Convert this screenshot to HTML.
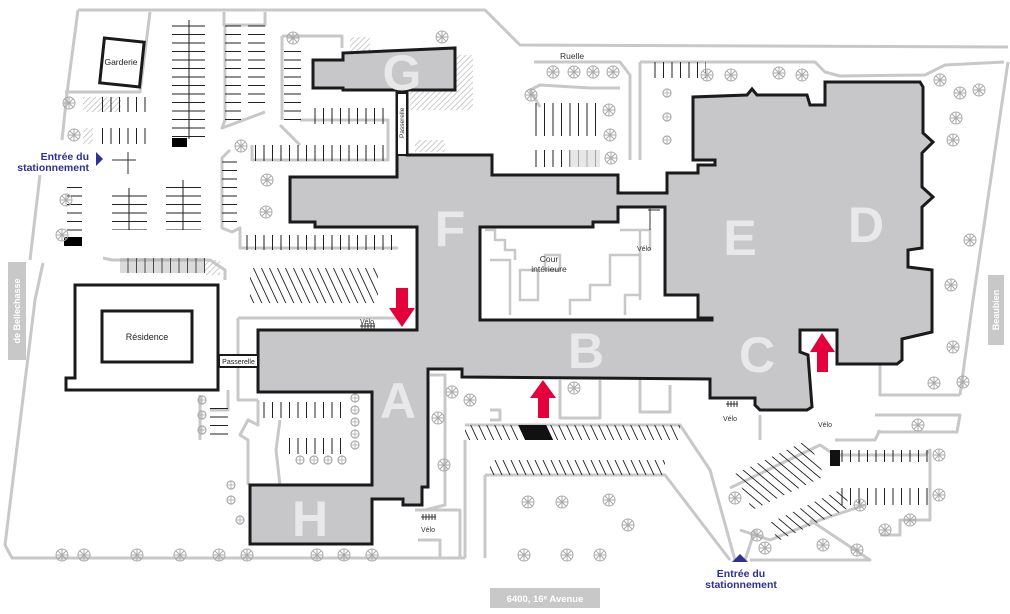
<!DOCTYPE html>
<html><head><meta charset="utf-8"><style>
html,body{margin:0;padding:0;background:#fff;}
svg{display:block;font-family:"Liberation Sans",sans-serif;}
</style></head><body>
<svg width="1010" height="614" viewBox="0 0 1010 614" xmlns="http://www.w3.org/2000/svg">
<defs>
<pattern id="vl" width="8.5" height="10" patternUnits="userSpaceOnUse"><line x1="0.5" y1="0" x2="0.5" y2="10" stroke="#222" stroke-width="1"/></pattern>
<pattern id="hl" width="10" height="8.5" patternUnits="userSpaceOnUse"><line x1="0" y1="0.5" x2="10" y2="0.5" stroke="#222" stroke-width="1"/></pattern>
<pattern id="dl" width="8" height="10" patternUnits="userSpaceOnUse" patternTransform="skewX(25)"><line x1="0.5" y1="0" x2="0.5" y2="10" stroke="#222" stroke-width="1"/></pattern>
<pattern id="hatch" width="4" height="4" patternUnits="userSpaceOnUse" patternTransform="rotate(45)"><line x1="0" y1="0" x2="0" y2="4" stroke="#bbb" stroke-width="1.5"/></pattern>
<g id="tree"><circle r="6" fill="none" stroke="#aaa" stroke-width="1"/><path d="M-6 0H6M0-6V6M-4-4L4 4M-4 4L4-4" stroke="#aaa" stroke-width="1"/></g>
<g id="stree"><circle r="4" fill="none" stroke="#aaa" stroke-width="1.2"/><path d="M-4 0H4M0-4V4" stroke="#aaa" stroke-width="0.8"/></g>
</defs>

<!-- site boundaries -->
<g fill="none" stroke="#c8c8c8" stroke-width="3" stroke-linejoin="round">
<polyline points="78,10 485,10 520,45 1008,47"/>
<polyline points="78,10 67,93 62,140"/>
<polyline points="150,12 140,92 65,92"/>
<polyline points="43,263 35,300 5,545 12,558 465,558"/>
<polyline points="1008,62 972,307 960,395"/>
<polyline points="40,175 30,260"/>
<polyline points="534,62 620,62 630,75 630,160"/>
<polyline points="640,62 640,160"/>
<polyline points="640,62 815,62 825,72 840,76 925,75 945,65 1004,62"/>
<polyline points="224,12 224,25 265,25 265,12"/>
<polyline points="225,25 225,120 222,128 265,112"/>
<polyline points="282,36 342,36 342,48"/>
<polyline points="282,36 282,120"/>
<polyline points="300,120 388,120 388,160 252,160 252,145"/>
<polyline points="230,150 222,158 222,228 232,232 240,228 240,248 398,248"/>
<polyline points="103,258 112,260 210,260 225,270 225,280"/>
<polyline points="238,318 400,318"/>
<polyline points="238,318 238,400 258,400"/>
<polyline points="228,390 228,410 210,410"/>
<polyline points="258,400 258,425 248,420 240,435 248,440 248,485"/>
<polyline points="280,420 276,450 280,485"/>
<polyline points="465,425 680,425 710,470 735,560"/>
<polyline points="465,440 465,558"/>
<polyline points="485,475 665,475 730,560"/>
<polyline points="485,475 485,558"/>
<polyline points="730,488 820,445 835,455 925,455 930,450 930,520 900,520 900,535 880,535"/>
<polyline points="740,530 770,540 820,520 865,505"/>
<polyline points="745,560 755,530"/>
<polyline points="810,520 870,560 750,560"/>
<polyline points="875,415 960,415 957,432 877,432 Z"/>
<polyline points="835,440 875,440 880,430"/>
<polyline points="760,415 760,440"/>
<polyline points="880,360 880,395 960,395"/>
<polyline points="560,380 560,418 600,418 600,380"/>
<polyline points="640,380 640,412 670,412 670,385"/>
<polyline points="430,375 445,375 445,505 425,510"/>
<polyline points="490,410 500,410 500,420 490,420"/>
<polyline points="415,510 460,510 460,558"/>
<polyline points="418,540 440,540 440,558"/>
<polyline points="200,440 200,395"/>
<polyline points="540,107 530,90 540,85 590,88 620,88"/>
<polyline points="280,125 300,145"/>
</g>

<!-- hatched areas -->
<rect x="83" y="97" width="38" height="15" fill="url(#hatch)"/>
<rect x="83" y="128" width="10" height="16" fill="url(#hatch)"/>
<rect x="350" y="37" width="20" height="20" fill="url(#hatch)"/>
<rect x="410" y="55" width="63" height="55" fill="url(#hatch)"/>
<rect x="415" y="140" width="30" height="12" fill="url(#hatch)"/>
<rect x="205" y="260" width="15" height="15" fill="url(#hatch)"/>

<!-- parking stalls -->
<g>
<rect x="172" y="20" width="33" height="119" fill="url(#hl)"/>
<line x1="189" y1="20" x2="189" y2="139" stroke="#222"/>
<rect x="225" y="25" width="16" height="95" fill="url(#hl)"/>
<rect x="248" y="25" width="17" height="85" fill="url(#hl)"/>
<rect x="284" y="45" width="17" height="75" fill="url(#hl)"/>
<rect x="310" y="108" width="78" height="16" fill="url(#vl)"/>
<rect x="252" y="145" width="135" height="16" fill="url(#vl)"/>
<rect x="95" y="97" width="52" height="15" fill="url(#vl)"/>
<rect x="95" y="128" width="52" height="16" fill="url(#vl)"/>
<rect x="112" y="188" width="35" height="42" fill="url(#hl)"/>
<line x1="129" y1="188" x2="129" y2="230" stroke="#222"/>
<rect x="166" y="180" width="35" height="50" fill="url(#hl)"/>
<line x1="183" y1="180" x2="183" y2="230" stroke="#222"/>
<rect x="222" y="158" width="15" height="70" fill="url(#hl)"/>
<rect x="240" y="235" width="158" height="15" fill="url(#vl)"/>
<rect x="250" y="268" width="128" height="35" fill="url(#dl)"/>
<rect x="120" y="258" width="85" height="15" fill="url(#vl)"/>
<rect x="120" y="258" width="85" height="15" fill="#999" opacity="0.35"/>
<rect x="67" y="180" width="15" height="60" fill="url(#hl)"/>
<rect x="210" y="404" width="18" height="35" fill="url(#hl)"/>
<rect x="260" y="402" width="85" height="16" fill="url(#vl)"/>
<rect x="285" y="438" width="60" height="16" fill="url(#vl)"/>
<rect x="465" y="425" width="215" height="15" fill="url(#dl)"/>
<rect x="490" y="460" width="175" height="15" fill="url(#dl)"/>
<rect x="840" y="450" width="88" height="12" fill="url(#vl)"/>
<rect x="840" y="488" width="88" height="17" fill="url(#vl)"/>
<rect x="648" y="62" width="58" height="16" fill="url(#vl)"/>
<rect x="530" y="103" width="70" height="33" fill="url(#vl)"/>
<rect x="530" y="150" width="70" height="17" fill="url(#vl)"/>
<rect x="570" y="150" width="30" height="17" fill="#ddd" opacity="0.7"/>
<rect x="740" y="455" width="80" height="40" fill="url(#dl)" transform="rotate(-25 780 475)"/>
<rect x="770" y="505" width="80" height="20" fill="url(#dl)" transform="rotate(-25 810 515)"/>
<rect x="172" y="138" width="15" height="9" fill="#000"/>
<rect x="64" y="237" width="18" height="9" fill="#000"/>
<rect x="520" y="425" width="28" height="15" fill="#111" transform="skewX(25) translate(-200 0)"/>
<rect x="830" y="450" width="10" height="16" fill="#111"/>
</g>

<!-- trees -->
<g>
<use href="#tree" x="69" y="103"/><use href="#tree" x="74" y="135"/><use href="#tree" x="66" y="200"/><use href="#tree" x="62" y="235"/>
<use href="#tree" x="293" y="38"/><use href="#tree" x="442" y="37"/><use href="#tree" x="241" y="146"/><use href="#tree" x="267" y="180"/><use href="#tree" x="266" y="212"/>
<use href="#tree" x="553" y="72"/><use href="#tree" x="574" y="72"/><use href="#tree" x="593" y="72"/><use href="#tree" x="613" y="72"/><use href="#tree" x="531" y="95"/>
<use href="#tree" x="609" y="110"/><use href="#tree" x="610" y="135"/><use href="#tree" x="611" y="158"/>
<use href="#tree" x="707" y="75"/><use href="#tree" x="731" y="75"/><use href="#tree" x="779" y="73"/><use href="#tree" x="802" y="75"/>
<use href="#tree" x="940" y="80"/><use href="#tree" x="960" y="93"/><use href="#tree" x="979" y="90"/><use href="#tree" x="956" y="118"/><use href="#tree" x="953" y="140"/><use href="#tree" x="970" y="240"/><use href="#tree" x="951" y="285"/><use href="#tree" x="953" y="347"/><use href="#tree" x="934" y="383"/>
<use href="#tree" x="62" y="555"/><use href="#tree" x="84" y="555"/><use href="#tree" x="137" y="555"/><use href="#tree" x="180" y="555"/><use href="#tree" x="219" y="555"/><use href="#tree" x="247" y="555"/><use href="#tree" x="317" y="555"/><use href="#tree" x="344" y="555"/><use href="#tree" x="372" y="555"/>
<use href="#tree" x="452" y="392"/><use href="#tree" x="470" y="400"/><use href="#tree" x="438" y="418"/><use href="#tree" x="444" y="465"/><use href="#tree" x="574" y="388"/><use href="#tree" x="528" y="502"/><use href="#tree" x="562" y="502"/><use href="#tree" x="609" y="500"/><use href="#tree" x="628" y="525"/>
<use href="#tree" x="524" y="555"/><use href="#tree" x="567" y="555"/><use href="#tree" x="600" y="555"/>
<use href="#tree" x="939" y="455"/><use href="#tree" x="939" y="495"/><use href="#tree" x="910" y="520"/><use href="#tree" x="885" y="530"/><use href="#tree" x="857" y="550"/><use href="#tree" x="860" y="505"/><use href="#tree" x="823" y="545"/><use href="#tree" x="757" y="535"/><use href="#tree" x="765" y="548"/><use href="#tree" x="735" y="498"/><use href="#tree" x="918" y="425"/><use href="#tree" x="963" y="382"/>
<use href="#stree" x="202" y="400"/><use href="#stree" x="202" y="415"/><use href="#stree" x="202" y="430"/><use href="#stree" x="231" y="485"/><use href="#stree" x="231" y="500"/><use href="#stree" x="240" y="520"/><use href="#stree" x="355" y="398"/><use href="#stree" x="355" y="410"/><use href="#stree" x="355" y="422"/><use href="#stree" x="355" y="434"/><use href="#stree" x="355" y="445"/>
<use href="#stree" x="300" y="460"/><use href="#stree" x="314" y="460"/><use href="#stree" x="328" y="460"/><use href="#stree" x="342" y="460"/><use href="#stree" x="667" y="93"/><use href="#stree" x="667" y="117"/><use href="#stree" x="667" y="140"/>
</g>

<!-- main building -->
<polygon points="290,177 397,177 397,93 407,93 407,155 492,155 492,175 618,175 618,193 667,193 667,173 698,173 698,165 715,165 715,160 693,160 693,97 747,95 752,89 757,95 807,95 810,105 825,105 825,82 920,82 923,87 923,133 933,142 922,153 922,187 933,197 922,207 922,248 908,250 908,267 932,270 932,332 902,339 902,360 897,364 837,364 837,330 800,330 800,352 808,355 812,407 807,410 760,410 755,405 755,398 710,398 710,379 462,377 462,369 428,369 428,487 422,487 422,505 403,505 403,499 372,499 372,544 250,544 250,485 372,485 372,392 258,392 258,330 417,330 417,227 315,227 315,222 290,222" fill="#c7c7ca" stroke="#1a1a1a" stroke-width="3" stroke-linejoin="miter"/>
<!-- courtyard -->
<polygon points="480,227 593,227 593,222 618,222 618,207 665,207 665,295 698,295 698,318 712,318 712,320 480,320" fill="#fff" stroke="#1a1a1a" stroke-width="3"/>
<g fill="none" stroke="#c8c8c8" stroke-width="2.5">
<polyline points="485,230 495,230 495,240 505,240 505,250 515,250 515,260"/>
<polyline points="490,260 510,260 510,315"/>
<rect x="520" y="270" width="18" height="30"/>
<rect x="545" y="255" width="15" height="15"/>
<polyline points="570,315 570,300 590,300 590,285 610,285 610,255 640,255 640,295 625,295 625,315"/>
<polyline points="620,230 650,230 650,250"/>
<line x1="640" y1="230" x2="640" y2="300"/>
</g>
<!-- G building -->
<polygon points="313,60 343,60 343,53 455,48 455,90 343,90 343,88 313,88" fill="#c7c7ca" stroke="#1a1a1a" stroke-width="3"/>
<rect x="397" y="93" width="10" height="62" fill="#fff" stroke="#1a1a1a" stroke-width="2"/>
<text x="0" y="0" font-size="6.5" fill="#333" transform="translate(404,138) rotate(-90)">Passerelle</text>

<!-- Residence -->
<polygon points="75,285 218,285 218,390 66,390 66,378 75,378" fill="#fff" stroke="#1a1a1a" stroke-width="3"/>
<rect x="102" y="311" width="90" height="51" fill="#fff" stroke="#1a1a1a" stroke-width="3"/>
<text x="147" y="340" font-size="9" text-anchor="middle" fill="#222">Résidence</text>
<rect x="219" y="355" width="39" height="12" fill="#fff" stroke="#1a1a1a" stroke-width="2"/>
<text x="238.5" y="364" font-size="7" text-anchor="middle" fill="#222">Passerelle</text>

<!-- Garderie -->
<rect x="102" y="40" width="40" height="45" fill="#fff" stroke="#1a1a1a" stroke-width="3" transform="rotate(6 122 62)"/>
<text x="121" y="65" font-size="8.5" text-anchor="middle" fill="#222">Garderie</text>

<!-- letters -->
<g font-size="50" font-weight="bold" fill="#e8e8e9" text-anchor="middle">
<text x="402" y="90">G</text>
<text x="450" y="246">F</text>
<text x="740" y="255">E</text>
<text x="866" y="242">D</text>
<text x="586" y="368">B</text>
<text x="757" y="372">C</text>
<text x="398" y="418">A</text>
<text x="310" y="536">H</text>
</g>

<!-- red arrows -->
<g fill="#e4003b">
<polygon points="396,288 408,288 408,308 415,308 402,327 389,308 396,308"/>
<polygon points="538,418 549,418 549,398 556,398 543,380 530,398 538,398"/>
<polygon points="817,372 828,372 828,352 835,352 822,333 810,352 817,352"/>
</g>

<!-- labels -->
<g font-size="7" fill="#333">
<text x="360" y="324">Vélo</text>
<text x="637" y="251">Vélo</text>
<text x="723" y="421">Vélo</text>
<text x="818" y="427">Vélo</text>
<text x="421" y="532">Vélo</text>
<text x="560" y="59" font-size="8.5">Ruelle</text>
<text x="549" y="262" font-size="8.5" text-anchor="middle">Cour</text>
<text x="549" y="272" font-size="8.5" text-anchor="middle">intérieure</text>
</g>
<g stroke="#333" stroke-width="1">
<path d="M360 326H375M362 323V329M365 323V329M368 323V329M371 323V329M374 323V329"/>
<path d="M421 517H436M423 514V520M426 514V520M429 514V520M432 514V520M435 514V520"/>
<path d="M726 404H738M728 401V407M731 401V407M734 401V407M737 401V407"/>
<path d="M648 210H660M650 207V226M650 215V230"/>
<path d="M112 160H136M128 152V160M128 160V174" />
</g>

<!-- street labels -->
<rect x="8" y="262" width="18" height="98" fill="#c8c8c8"/>
<text font-size="9" font-weight="bold" fill="#fff" text-anchor="middle" transform="translate(20,311) rotate(-90)">de Bellechasse</text>
<rect x="988" y="275" width="16" height="70" fill="#c8c8c8"/>
<text font-size="9" font-weight="bold" fill="#fff" text-anchor="middle" transform="translate(999,310) rotate(-90)">Beaubien</text>
<rect x="490" y="588" width="110" height="20" fill="#c8c8c8"/>
<text x="545" y="602" font-size="9.5" font-weight="bold" fill="#fff" text-anchor="middle">6400, 16ᵉ Avenue</text>

<!-- entrances -->
<g fill="#2e3192" font-size="10.5" font-weight="bold">
<text x="89" y="160" text-anchor="end">Entrée du</text>
<text x="89" y="171" text-anchor="end">stationnement</text>
<polygon points="96,152 103,159 96,166"/>
<polygon points="732,562 740,554 748,562" transform="translate(0,0)"/>
<text x="741" y="577" text-anchor="middle">Entrée du</text>
<text x="741" y="588" text-anchor="middle">stationnement</text>
</g>
</svg>
</body></html>
